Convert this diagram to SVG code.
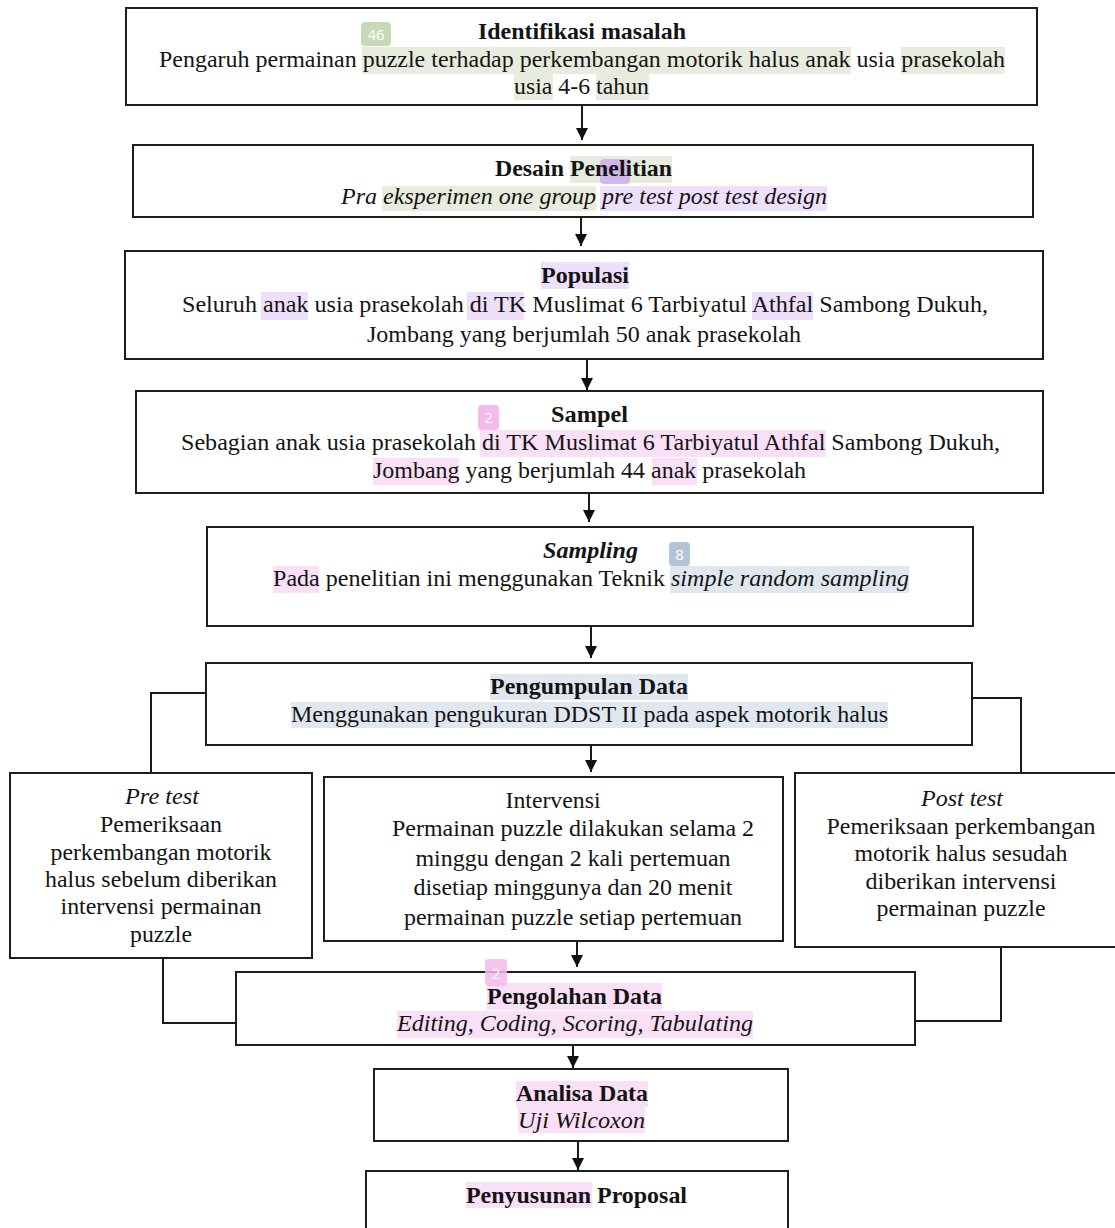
<svg xmlns="http://www.w3.org/2000/svg" width="1115" height="1228" viewBox="0 0 1115 1228">
<defs>
<marker id="ah" viewBox="0 0 10 10" refX="10" refY="5" markerWidth="12" markerHeight="12" markerUnits="userSpaceOnUse" orient="auto">
<path d="M0,0 L10,5 L0,10 z" fill="#111"/>
</marker>
<style>
.box{fill:#fff;stroke:#1e1e1e;stroke-width:2}
.t{font-family:"Liberation Serif","Times New Roman",serif;font-size:23px;fill:#141414}
.b{font-weight:bold}
.i{font-style:italic}
.m{text-anchor:middle}
.hg{fill:#e8ecde}
.hp{fill:#eedffb}
.hk{fill:#fae0f6}
.hb{fill:#e1e7ef}
.badge{font-family:"Open Sans","DejaVu Sans",sans-serif;font-size:15px;fill:#fff;text-anchor:middle}
.con{fill:none;stroke:#1a1a1a;stroke-width:2}
</style>
</defs>
<rect width="1115" height="1228" fill="#fff"/>

<g id="connectors">
<path class="con" d="M582,105 V140" marker-end="url(#ah)"/>
<path class="con" d="M581,217 V246" marker-end="url(#ah)"/>
<path class="con" d="M587,359 V390" marker-end="url(#ah)"/>
<path class="con" d="M589,493 V522" marker-end="url(#ah)"/>
<path class="con" d="M591,626 V658" marker-end="url(#ah)"/>
<path class="con" d="M591,745 V772" marker-end="url(#ah)"/>
<path class="con" d="M577,941 V967" marker-end="url(#ah)"/>
<path class="con" d="M573,1045 V1068" marker-end="url(#ah)"/>
<path class="con" d="M578,1141 V1170" marker-end="url(#ah)"/>
<path class="con" d="M206,693 H151 V773"/>
<path class="con" d="M968,698 H1021 V773"/>
<path class="con" d="M163,958 V1023 H236"/>
<path class="con" d="M1001,947 V1021 H915"/>
</g>

<g id="identifikasi">
<rect class="box" x="126" y="8" width="911" height="97"/>
<rect class="hg" x="362" y="47" width="489" height="27"/>
<rect class="hg" x="901" y="47" width="104" height="27"/>
<rect class="hg" x="514" y="74" width="39" height="26"/>
<rect class="hg" x="596" y="74" width="53" height="26"/>
<rect x="361" y="22" width="30" height="24" rx="4" fill="#c8dab5"/>
<text class="badge" x="376" y="40">46</text>
<text class="t b" x="478" y="39" textLength="208" lengthAdjust="spacingAndGlyphs">Identifikasi masalah</text>
<text class="t" x="159" y="67" textLength="846" lengthAdjust="spacingAndGlyphs">Pengaruh permainan puzzle terhadap perkembangan motorik halus anak usia prasekolah</text>
<text class="t" x="514" y="94" textLength="135" lengthAdjust="spacingAndGlyphs">usia 4-6 tahun</text>
</g>

<g id="desain">
<rect class="box" x="133" y="145" width="900" height="72"/>
<rect class="hg" x="570" y="156" width="102" height="27"/>
<rect class="hg" x="382" y="186" width="214" height="25"/>
<rect class="hp" x="600" y="186" width="227" height="25"/>
<rect x="600" y="159" width="30" height="25" rx="4" fill="#c9a6ef" opacity="0.75"/>
<text class="t b" x="495" y="176" textLength="177" lengthAdjust="spacingAndGlyphs">Desain Penelitian</text>
<text class="t i" x="341" y="204" textLength="486" lengthAdjust="spacingAndGlyphs">Pra eksperimen one group pre test post test design</text>
</g>

<g id="populasi">
<rect class="box" x="125" y="251" width="918" height="108"/>
<rect class="hp" x="541" y="262" width="88" height="27"/>
<rect class="hp" x="261" y="292" width="47" height="28"/>
<rect class="hp" x="467" y="292" width="57" height="28"/>
<rect class="hp" x="752" y="292" width="61" height="28"/>
<text class="t b" x="541" y="283" textLength="88" lengthAdjust="spacingAndGlyphs">Populasi</text>
<text class="t" x="182" y="312" textLength="806" lengthAdjust="spacingAndGlyphs">Seluruh anak usia prasekolah di TK Muslimat 6 Tarbiyatul Athfal Sambong Dukuh,</text>
<text class="t" x="367" y="342" textLength="434" lengthAdjust="spacingAndGlyphs">Jombang yang berjumlah 50 anak prasekolah</text>
</g>

<g id="sampel">
<rect class="box" x="136" y="391" width="907" height="102"/>
<rect class="hk" x="480" y="430" width="346" height="27"/>
<rect class="hk" x="373" y="458" width="86" height="27"/>
<rect class="hk" x="652" y="458" width="45" height="27"/>
<rect x="478" y="405" width="21" height="25" rx="4" fill="#f5b9ec"/>
<text class="badge" x="488.5" y="423">2</text>
<text class="t b" x="551" y="422" textLength="77" lengthAdjust="spacingAndGlyphs">Sampel</text>
<text class="t" x="181" y="450" textLength="819" lengthAdjust="spacingAndGlyphs">Sebagian anak usia prasekolah di TK Muslimat 6 Tarbiyatul Athfal Sambong Dukuh,</text>
<text class="t" x="373" y="478" textLength="433" lengthAdjust="spacingAndGlyphs">Jombang yang berjumlah 44 anak prasekolah</text>
</g>

<g id="sampling">
<rect class="box" x="207" y="527" width="766" height="99"/>
<rect class="hk" x="273" y="566" width="46" height="27"/>
<rect class="hb" x="670" y="566" width="239" height="27"/>
<rect x="669" y="542" width="21" height="24" rx="4" fill="#b4c4d7"/>
<text class="badge" x="679.5" y="560">8</text>
<text class="t b i" x="543" y="558" textLength="95" lengthAdjust="spacingAndGlyphs">Sampling</text>
<text class="t" x="273" y="586" textLength="392" lengthAdjust="spacingAndGlyphs">Pada penelitian ini menggunakan Teknik</text>
<text class="t i" x="671" y="586" textLength="238" lengthAdjust="spacingAndGlyphs">simple random sampling</text>
</g>

<g id="pengumpulan">
<rect class="box" x="206" y="663" width="766" height="82"/>
<rect class="hb" x="490" y="674" width="198" height="26"/>
<rect class="hb" x="291" y="702" width="597" height="26"/>
<text class="t b" x="490" y="694" textLength="198" lengthAdjust="spacingAndGlyphs">Pengumpulan Data</text>
<text class="t" x="291" y="722" textLength="597" lengthAdjust="spacingAndGlyphs">Menggunakan pengukuran DDST II pada aspek motorik halus</text>
</g>

<g id="pretest">
<rect class="box" x="10" y="773" width="302" height="185"/>
<text class="t i m" x="162" y="804" textLength="74" lengthAdjust="spacingAndGlyphs">Pre test</text>
<text class="t m" x="161" y="832" textLength="122" lengthAdjust="spacingAndGlyphs">Pemeriksaan</text>
<text class="t m" x="161" y="860" textLength="221" lengthAdjust="spacingAndGlyphs">perkembangan motorik</text>
<text class="t m" x="161" y="887" textLength="232" lengthAdjust="spacingAndGlyphs">halus sebelum diberikan</text>
<text class="t m" x="161" y="914" textLength="201" lengthAdjust="spacingAndGlyphs">intervensi permainan</text>
<text class="t m" x="161" y="942" textLength="62" lengthAdjust="spacingAndGlyphs">puzzle</text>
</g>

<g id="intervensi">
<rect class="box" x="324" y="777" width="459" height="164"/>
<text class="t m" x="553" y="808" textLength="95" lengthAdjust="spacingAndGlyphs">Intervensi</text>
<text class="t m" x="573" y="836" textLength="362" lengthAdjust="spacingAndGlyphs">Permainan puzzle dilakukan selama 2</text>
<text class="t m" x="573" y="866" textLength="315" lengthAdjust="spacingAndGlyphs">minggu dengan 2 kali pertemuan</text>
<text class="t m" x="573" y="895" textLength="319" lengthAdjust="spacingAndGlyphs">disetiap minggunya dan 20 menit</text>
<text class="t m" x="573" y="925" textLength="338" lengthAdjust="spacingAndGlyphs">permainan puzzle setiap pertemuan</text>
</g>

<g id="posttest">
<rect class="box" x="795" y="773" width="330" height="174"/>
<text class="t i m" x="962" y="806" textLength="82" lengthAdjust="spacingAndGlyphs">Post test</text>
<text class="t m" x="961" y="834" textLength="269" lengthAdjust="spacingAndGlyphs">Pemeriksaan perkembangan</text>
<text class="t m" x="961" y="861" textLength="213" lengthAdjust="spacingAndGlyphs">motorik halus sesudah</text>
<text class="t m" x="961" y="889" textLength="191" lengthAdjust="spacingAndGlyphs">diberikan intervensi</text>
<text class="t m" x="961" y="916" textLength="169" lengthAdjust="spacingAndGlyphs">permainan puzzle</text>
</g>

<g id="pengolahan">
<rect class="box" x="236" y="972" width="679" height="73"/>
<rect class="hk" x="487" y="983" width="175" height="27"/>
<rect class="hk" x="397" y="1011" width="356" height="27"/>
<rect x="485" y="959" width="22" height="27" rx="4" fill="#f5b9ec" opacity="0.85"/>
<text class="badge" x="496" y="979">2</text>
<text class="t b" x="487" y="1004" textLength="175" lengthAdjust="spacingAndGlyphs">Pengolahan Data</text>
<text class="t i" x="397" y="1031" textLength="356" lengthAdjust="spacingAndGlyphs">Editing, Coding, Scoring, Tabulating</text>
</g>

<g id="analisa">
<rect class="box" x="374" y="1069" width="414" height="72"/>
<rect class="hk" x="516" y="1081" width="132" height="26"/>
<rect class="hk" x="518" y="1107" width="127" height="26"/>
<text class="t b" x="516" y="1101" textLength="132" lengthAdjust="spacingAndGlyphs">Analisa Data</text>
<text class="t i" x="518" y="1128" textLength="127" lengthAdjust="spacingAndGlyphs">Uji Wilcoxon</text>
</g>

<g id="penyusunan">
<rect class="box" x="366" y="1171" width="422" height="80"/>
<rect class="hk" x="466" y="1182" width="126" height="26"/>
<text class="t b" x="466" y="1203" textLength="221" lengthAdjust="spacingAndGlyphs">Penyusunan Proposal</text>
</g>
</svg>
